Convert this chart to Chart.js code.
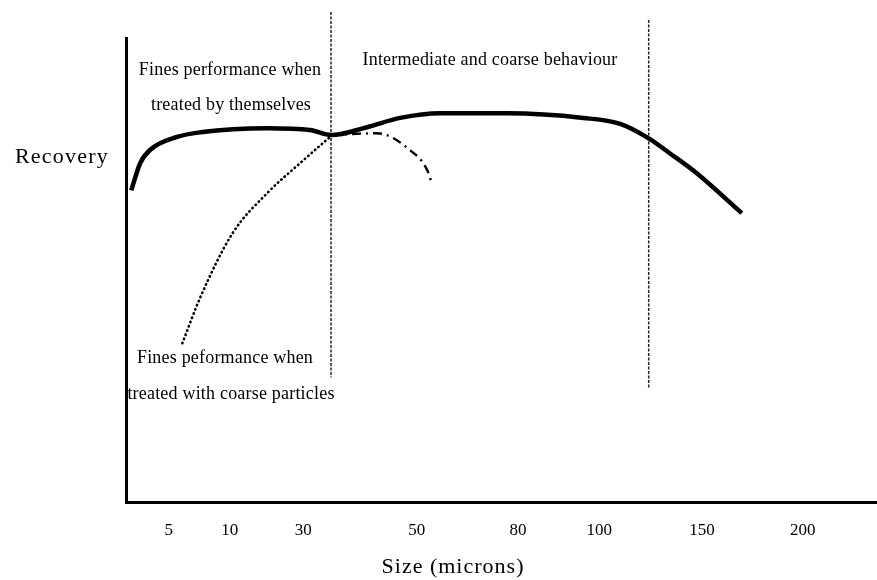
<!DOCTYPE html>
<html>
<head>
<meta charset="utf-8">
<script src="https://cdn.jsdelivr.net/npm/chart.js@4"></script>
<style>
  html, body { margin: 0; padding: 0; background: #fff; }
  #wrap { width: 877px; height: 580px; }
</style>
</head>
<body>
<div id="wrap"><canvas id="recoveryChart"></canvas></div>
<script>
// x axis is schematic: positions in arbitrary units (0 = y axis, 100 = right edge)
const xTickLabels = ['5', '10', '30', '50', '80', '100', '150', '200'];
const xTickPos = [5.7, 13.8, 23.6, 38.7, 52.2, 63.0, 76.7, 90.1];

// overall recovery (thick solid curve)
const overallX = [0.7, 1.9, 3.2, 6.8, 9.9, 18.8, 24.5, 27.3, 32.1, 36.5, 41.8, 50.7, 60.9, 65.8, 69.6, 72.4, 76.0, 82.0];
const overallY = [67.2, 73.1, 75.9, 78.7, 79.7, 80.6, 80.2, 79.1, 80.8, 82.8, 83.8, 83.8, 82.8, 81.5, 78.4, 75.2, 70.9, 62.3];

// fines treated with coarse particles (dotted)
const withCoarseX = [7.5, 9.9, 14.2, 18.8, 23.2, 27.3];
const withCoarseY = [34.3, 44.2, 58.0, 66.6, 73.1, 78.9];

// fines treated by themselves, continued (dash-dot)
const finesAloneX = [27.3, 33.4, 37.8, 40.1, 40.7];
const finesAloneY = [79.1, 79.5, 75.9, 71.6, 68.8];

// boundaries between size ranges
const boundaryX = [27.3, 69.6];
const boundaryTop = [105.6, 103.9];
const boundaryBottom = [26.9, 24.8];

const pts = (xs, ys) => xs.map((x, i) => ({ x: x, y: ys[i] }));

const serif = '"Liberation Serif", "DejaVu Serif", serif';

// texts drawn on top (horizontal y label, annotations, x title)
const notes = [
    { text: 'Recovery', x: 15, y: 157, size: 22, align: 'left', spacing: 1.2 },
    { text: 'Fines performance when', x: 230, y: 70, size: 18, align: 'center', spacing: 0.2 },
    { text: 'treated by themselves', x: 231, y: 105, size: 18, align: 'center', spacing: 0.2 },
    { text: 'Intermediate and coarse behaviour', x: 490, y: 60, size: 18, align: 'center', spacing: 0.2 },
    { text: 'Fines peformance when', x: 225, y: 358, size: 18, align: 'center', spacing: 0.2 },
    { text: 'treated with coarse particles', x: 231, y: 394, size: 18, align: 'center', spacing: 0.2 },
    { text: 'Size (microns)', x: 453, y: 567, size: 22, align: 'center', spacing: 1.0 }
];

const notesPlugin = {
    id: 'notes',
    afterDraw(chart) {
        const c = chart.ctx;
        c.save();
        c.fillStyle = '#000';
        c.textBaseline = 'middle';
        notes.forEach(n => {
            c.font = n.size + 'px ' + serif;
            c.letterSpacing = n.spacing + 'px';
            c.textAlign = n.align;
            c.fillText(n.text, n.x, n.y);
        });
        c.restore();
    }
};

const boundaryDatasets = boundaryX.map((x, i) => ({
    data: [{ x: x, y: boundaryTop[i] }, { x: x, y: boundaryBottom[i] }],
    borderColor: '#222',
    borderWidth: 1.5,
    borderDash: [3, 1.5],
    clip: false
}));

new Chart(document.getElementById('recoveryChart'), {
    type: 'scatter',
    data: {
        datasets: [
            {
                data: pts(overallX, overallY),
                borderColor: '#000',
                borderWidth: 4.5,
                cubicInterpolationMode: 'monotone'
            },
            {
                data: pts(withCoarseX, withCoarseY),
                borderColor: '#000',
                borderWidth: 2.6,
                borderDash: [0.5, 4],
                borderCapStyle: 'round',
                cubicInterpolationMode: 'monotone'
            },
            {
                data: pts(finesAloneX, finesAloneY),
                borderColor: '#000',
                borderWidth: 2.4,
                borderDash: [9, 5, 2, 5],
                cubicInterpolationMode: 'monotone'
            },
            ...boundaryDatasets
        ]
    },
    options: {
        responsive: true,
        maintainAspectRatio: false,
        animation: false,
        showLine: true,
        elements: { point: { radius: 0 } },
        layout: { padding: { left: 126, top: 38, right: 0, bottom: 21 } },
        plugins: { legend: { display: false }, tooltip: { enabled: false } },
        scales: {
            x: {
                type: 'linear',
                min: 0,
                max: 100,
                grid: { display: false, drawTicks: false },
                border: { display: true, width: 3, color: '#000' },
                afterBuildTicks: axis => {
                    axis.ticks = xTickPos.map(v => ({ value: v }));
                },
                ticks: {
                    autoSkip: false,
                    maxRotation: 0,
                    padding: 18,
                    color: '#000',
                    font: { family: serif, size: 17 },
                    callback: (value, index) => xTickLabels[index]
                }
            },
            y: {
                min: 0,
                max: 100,
                grid: { display: false, drawTicks: false },
                border: { display: true, width: 3, color: '#000' },
                ticks: { display: false }
            }
        }
    },
    plugins: [notesPlugin]
});
</script>
</body>
</html>
